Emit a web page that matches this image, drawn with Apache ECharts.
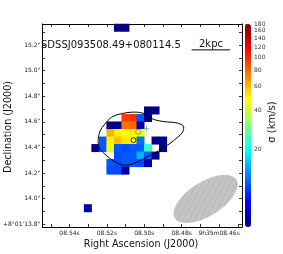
<!DOCTYPE html>
<html><head><meta charset="utf-8">
<script src="https://cdn.jsdelivr.net/npm/echarts@6/dist/echarts.min.js"></script>
<style>html,body{margin:0;padding:0;background:#fff}#c{width:283px;height:254px}</style>
</head><body><div id="c"></div>
<script>
// ---- data ----
const nCols = 27, nRows = 27;
const cellCol = [10,11, 14,15, 11,12,13,14, 9,10,11,12,13, 9,10,11,12,13, 8,9,10,11,12,13,15,16, 7,8,9,10,11,12,13,14,16, 10,11,12,13,14,15, 9,10,11,12,13,14, 9,10,11, 6];
const cellRow = [0,0, 11,11, 12,12,12,12, 13,13,13,13,13, 14,14,14,14,14, 15,15,15,15,15,15,15,15, 16,16,16,16,16,16,16,16,16, 17,17,17,17,17,17, 18,18,18,18,18,18, 19,19,19, 24];
const cellSigma = [5.3,5.3, 5.3,5.3, 92,97,11,5.5, 5.3,5.5,78,82,6, 62,50,48,50,46, 11,50,60,52,48,12,5.5,5.5, 5.5,11,45,11,10.5,11,11,23,5.5, 10.5,11,11,15,11,5.5, 11,10.5,11,11,10.5,6, 10.5,10.5,6, 6];

const raRange = [8.44774, 8.55458];
const decRange = [13.779, 15.364];
const raTicks = [8.54, 8.52, 8.50, 8.48, 8.46];
const raTickLabels = ['08.54s', '08.52s', '08.50s', '08.48s', '9h35m08.46s'];
const raMinorTicks = [8.45, 8.46, 8.47, 8.48, 8.49, 8.50, 8.51, 8.52, 8.53, 8.54, 8.55];
const decTicks = [13.8, 14.0, 14.2, 14.4, 14.6, 14.8, 15.0, 15.2];
const decTickLabels = ['+8°01\'13.8"', '14.0"', '14.2"', '14.4"', '14.6"', '14.8"', '15.0"', '15.2"'];
const decMinorTicks = [13.8, 13.9, 14.0, 14.1, 14.2, 14.3, 14.4, 14.5, 14.6, 14.7, 14.8, 14.9, 15.0, 15.1, 15.2, 15.3];
const cbarRange = [5.2, 180];
const cbarTicks = [20, 40, 60, 80, 100, 120, 140, 160, 180];

const contourRA  = [8.5247, 8.5237, 8.5211, 8.5174, 8.5121, 8.5053, 8.5000, 8.4953, 8.4895, 8.4821, 8.4789, 8.4795, 8.4821, 8.4868, 8.4926, 8.4989, 8.5053, 8.5105, 8.5163, 8.5211, 8.5242];
const contourDec = [14.457, 14.527, 14.582, 14.637, 14.664, 14.676, 14.664, 14.621, 14.602, 14.590, 14.559, 14.520, 14.480, 14.426, 14.371, 14.324, 14.277, 14.261, 14.293, 14.348, 14.402];

const blackCircle = [8.5058, 14.457];
const cyanCircle = [8.5033, 14.522];
const greenPlus = [8.4989, 14.549];

const beamCenter = [8.4672, 13.998];
const beamSemiAxes = [0.283, 0.133]; // arcsec
const beamAngleDeg = 32;

const scaleBarRA = [8.4747, 8.4542];
const scaleBarDec = 15.162;
const scaleBarText = '2kpc';
const objectName = 'SDSSJ093508.49+080114.5';

// ---- build ----
const FONT = 'DejaVu Sans';
const cells = cellCol.map((c, i) => [c, cellRow[i], Math.log(cellSigma[i])]);
const catX = Array.from({length: nCols}, (_, i) => i);
const catY = Array.from({length: nRows}, (_, i) => i);
const jet = ['#00007f','#0000ff','#007fff','#00ffff','#7fff7f','#ffff00','#ff7f00','#ff0000','#7f0000'];
function nearestLabel(v, ticks, labels){
  let bi = 0, bd = Infinity;
  ticks.forEach((t, i) => { const d = Math.abs(t - v); if (d < bd) { bd = d; bi = i; } });
  return labels[bi];
}
const contourData = contourRA.map((r, i) => [r, contourDec[i]]);
contourData.push(contourData[0]);

const chart = echarts.init(document.getElementById('c'), null, {renderer: 'canvas'});
const plotRect = {left: 39, top: 24, width: 203, height: 203};
const tickStyle = {color: '#000', width: 0.8};
chart.setOption({
  animation: false,
  textStyle: {fontFamily: FONT},
  grid: [
    Object.assign({}, plotRect),
    Object.assign({}, plotRect),
    {left: 245, top: 24, width: 6, height: 203}
  ],
  visualMap: {
    type: 'continuous', seriesIndex: 0, dimension: 2,
    min: Math.log(cbarRange[0]), max: Math.log(cbarRange[1]),
    inRange: {color: jet},
    left: 245, top: 24, itemWidth: 6, itemHeight: 203, padding: 0,
    calculable: false, hoverLink: false, text: null, showLabel: false
  },
  xAxis: [
    {type: 'category', gridIndex: 0, data: catX, show: false},
    {type: 'value', gridIndex: 1, min: raRange[0], max: raRange[1], inverse: true, position: 'bottom',
     axisLine: {show: true, onZero: false, lineStyle: {color: '#000', width: 1}},
     axisTick: {show: true, inside: true, length: 3, customValues: raMinorTicks, lineStyle: tickStyle},
     axisLabel: {customValues: raTicks, fontSize: 6, color: '#222', margin: 3, fontFamily: FONT,
       formatter: v => nearestLabel(v, raTicks, raTickLabels)},
     splitLine: {show: false}},
    {type: 'value', gridIndex: 1, min: raRange[0], max: raRange[1], inverse: true, position: 'top',
     axisLine: {show: true, onZero: false, lineStyle: {color: '#000', width: 1}},
     axisTick: {show: true, inside: true, length: 3, customValues: raMinorTicks, lineStyle: tickStyle},
     axisLabel: {show: false}, splitLine: {show: false}},
    {type: 'value', gridIndex: 2, show: false, min: 0, max: 1}
  ],
  yAxis: [
    {type: 'category', gridIndex: 0, data: catY, inverse: true, show: false},
    {type: 'value', gridIndex: 1, min: decRange[0], max: decRange[1], position: 'left',
     axisLine: {show: true, onZero: false, lineStyle: {color: '#000', width: 1}},
     axisTick: {show: true, inside: true, length: 3, customValues: decMinorTicks, lineStyle: tickStyle},
     axisLabel: {customValues: decTicks, fontSize: 6, color: '#222', margin: 2, fontFamily: FONT,
       formatter: v => nearestLabel(v, decTicks, decTickLabels)},
     splitLine: {show: false}},
    {type: 'value', gridIndex: 1, min: decRange[0], max: decRange[1], position: 'right',
     axisLine: {show: true, onZero: false, lineStyle: {color: '#000', width: 1}},
     axisTick: {show: true, inside: true, length: 3, customValues: decMinorTicks, lineStyle: tickStyle},
     axisLabel: {show: false}, splitLine: {show: false}},
    {type: 'value', gridIndex: 2, min: Math.log(cbarRange[0]), max: Math.log(cbarRange[1]), position: 'right',
     axisLine: {show: false},
     axisTick: {show: true, inside: false, length: 2, customValues: cbarTicks.map(Math.log), lineStyle: {color: '#555', width: 0.8}},
     axisLabel: {customValues: cbarTicks.map(Math.log), fontSize: 6, color: '#333', margin: 3, fontFamily: FONT,
       formatter: v => String(Math.round(Math.exp(v)))},
     splitLine: {show: false}}
  ],
  series: [
    {type: 'heatmap', xAxisIndex: 0, yAxisIndex: 0, data: cells, emphasis: {disabled: true}, progressive: 0},
    {type: 'custom', xAxisIndex: 1, yAxisIndex: 1, data: [beamCenter], silent: true, z: 3,
     renderItem: function(params, api){
       const c = api.coord([beamCenter[0], beamCenter[1]]);
       const up = api.coord([beamCenter[0], beamCenter[1] + 1]);
       const pxPerArcsec = Math.abs(c[1] - up[1]);
       const a = beamSemiAxes[0] * pxPerArcsec, b = beamSemiAxes[1] * pxPerArcsec;
       const th = beamAngleDeg * Math.PI / 180;
       const e1 = [Math.cos(th), -Math.sin(th)], e2 = [Math.sin(th), Math.cos(th)];
       const pts = [];
       for (let k = 0; k < 72; k++) {
         const f = k / 72 * 2 * Math.PI;
         pts.push([c[0] + a * Math.cos(f) * e1[0] + b * Math.sin(f) * e2[0],
                   c[1] + a * Math.cos(f) * e1[1] + b * Math.sin(f) * e2[1]]);
       }
       const children = [{type: 'polygon', shape: {points: pts}, style: {fill: '#c4c4c4', stroke: null}}];
       // hatch lines
       const ph = 62 * Math.PI / 180;
       const d = [Math.cos(ph), -Math.sin(ph)], n = [Math.sin(ph), Math.cos(ph)];
       for (let s = -40; s <= 40; s += 5) {
         const p0 = [s * n[0], s * n[1]];
         const al = p0[0]*e1[0] + p0[1]*e1[1], be = p0[0]*e2[0] + p0[1]*e2[1];
         const ga = d[0]*e1[0] + d[1]*e1[1], de = d[0]*e2[0] + d[1]*e2[1];
         const A = ga*ga/(a*a) + de*de/(b*b);
         const B = 2*(al*ga/(a*a) + be*de/(b*b));
         const C = al*al/(a*a) + be*be/(b*b) - 1;
         const disc = B*B - 4*A*C;
         if (disc <= 0) continue;
         const t1 = (-B - Math.sqrt(disc)) / (2*A), t2 = (-B + Math.sqrt(disc)) / (2*A);
         children.push({type: 'line', shape: {
           x1: c[0] + p0[0] + t1*d[0], y1: c[1] + p0[1] + t1*d[1],
           x2: c[0] + p0[0] + t2*d[0], y2: c[1] + p0[1] + t2*d[1]},
           style: {stroke: '#ababab', lineWidth: 0.5}});
       }
       return {type: 'group', children: children};
     }},
    {type: 'line', xAxisIndex: 1, yAxisIndex: 1, data: contourData, smooth: 0.35, showSymbol: false, symbol: 'none',
     lineStyle: {color: '#000', width: 1}, silent: true, z: 4},
    {type: 'scatter', xAxisIndex: 1, yAxisIndex: 1, data: [blackCircle], symbol: 'circle', symbolSize: 5,
     itemStyle: {color: 'transparent', borderColor: '#000', borderWidth: 1}, silent: true, z: 5},
    {type: 'scatter', xAxisIndex: 1, yAxisIndex: 1, data: [cyanCircle], symbol: 'circle', symbolSize: 5,
     itemStyle: {color: 'transparent', borderColor: '#2a9fb0', borderWidth: 1}, silent: true, z: 5},
    {type: 'scatter', xAxisIndex: 1, yAxisIndex: 1, data: [greenPlus], symbol: 'path://M4.4,0h1.2v10h-1.2z M0,4.4h10v1.2h-10z', symbolSize: 6,
     itemStyle: {color: '#2a9d70'}, silent: true, z: 5},
    {type: 'line', xAxisIndex: 1, yAxisIndex: 1, data: scaleBarRA.map(r => [r, scaleBarDec]), showSymbol: false, symbol: 'none',
     lineStyle: {color: '#000', width: 1}, silent: true, z: 5}
  ],
  graphic: [
    {type: 'text', x: 41, y: 45, z: 10, style: {text: objectName, font: '10px "DejaVu Sans"', fill: '#111', align: 'left', verticalAlign: 'middle'}},
    {type: 'text', x: 211, y: 44, z: 10, style: {text: scaleBarText, font: '10px "DejaVu Sans"', fill: '#111', align: 'center', verticalAlign: 'middle'}},
    {type: 'text', x: 141, y: 244, style: {text: 'Right Ascension (J2000)', font: '9.6px "DejaVu Sans"', fill: '#111', align: 'center', verticalAlign: 'middle'}},
    {type: 'text', x: 8, y: 127, rotation: Math.PI / 2, style: {text: 'Declination (J2000)', font: '9.6px "DejaVu Sans"', fill: '#111', align: 'center', verticalAlign: 'middle'}},
    {type: 'text', x: 272, y: 122, rotation: Math.PI / 2, style: {text: 'σ (km/s)', font: '10px "DejaVu Sans"', fill: '#111', align: 'center', verticalAlign: 'middle'}}
  ]
});
</script>
</body></html>
